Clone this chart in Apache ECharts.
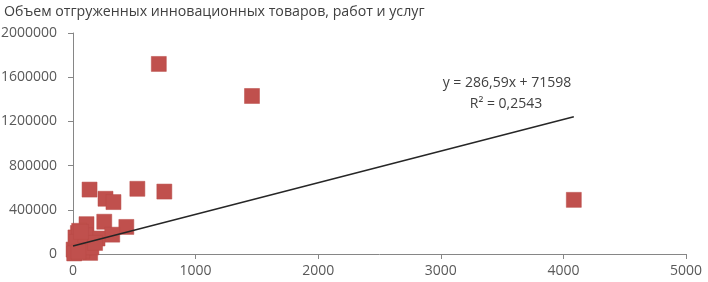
<!DOCTYPE html>
<html><head><meta charset="utf-8">
<script src="https://cdn.jsdelivr.net/npm/echarts@6/dist/echarts.min.js"></script>
<style>html,body{margin:0;padding:0;background:#fff}#c{width:708px;height:282px}</style>
</head><body><div id="c"></div>
<script>
const titleText = "Объем отгруженных инновационных товаров, работ и услуг";
const xValues = [700, 1460, 4085, 525, 745, 135, 265, 330, 255, 435, 110, 40, 15, 140, 320, 5, 25, 60, 90, 20, 50, 75, 150, 200, 30, 10, 100, 180, 45, 65];
const yValues = [1720000, 1430000, 490000, 590000, 565000, 583000, 500000, 470000, 292000, 245000, 270000, 190000, 10000, 10000, 175000, 40000, 80000, 130000, 60000, 150000, 210000, 30000, 60000, 140000, 110000, 5000, 170000, 100000, 20000, 200000];
const trendX = [0, 4085];
const trendY = [71598, 1242300];
const equationLines = ["y = 286,59x + 71598", "R² = 0,2543"];
const xTicks = [0, 1000, 2000, 3000, 4000, 5000];
const yTicks = [0, 400000, 800000, 1200000, 1600000, 2000000];

const font = "'Open Sans', sans-serif";
const chart = echarts.init(document.getElementById('c'), null, {renderer: 'canvas'});
const pts = xValues.map((x, i) => [x, yValues[i]]);
chart.setOption({
  animation: false,
  title: {text: titleText, left: -1, top: 0, textStyle: {fontFamily: font, fontSize: 14.2, fontWeight: 'normal', color: '#404040'}},
  grid: {left: 73, right: 22, top: 33, bottom: 28, containLabel: false, outerBoundsMode: 'none'},
  xAxis: {type: 'value', min: xTicks[0], max: xTicks[xTicks.length-1], interval: 1000,
    axisLine: {show: true, lineStyle: {color: '#868686'}}, axisTick: {show: true, length: 5, lineStyle: {color: '#868686'}},
    axisLabel: {fontFamily: font, fontSize: 14, color: '#595959', margin: 10, formatter: v => String(v)},
    splitLine: {show: false}},
  yAxis: {type: 'value', min: yTicks[0], max: yTicks[yTicks.length-1], interval: 400000,
    axisLine: {show: true, lineStyle: {color: '#868686'}}, axisTick: {show: true, length: 5, lineStyle: {color: '#868686'}},
    axisLabel: {fontFamily: font, fontSize: 14, color: '#595959', margin: 16, formatter: v => String(v)},
    splitLine: {show: false}},
  series: [
    {type: 'scatter', data: pts, symbol: 'rect', symbolSize: 15, itemStyle: {color: '#C0504D', opacity: 1, borderColor: '#B94A47', borderWidth: 0.5}},
    {type: 'line', data: trendX.map((x, i) => [x, trendY[i]]), symbol: 'none', lineStyle: {color: '#262626', width: 1.5}, z: 3}
  ],
  graphic: [
    {type: 'text', x: 507, y: 83, style: {text: equationLines[0], fontFamily: font, fontSize: 14, fill: '#404040', align: 'center', verticalAlign: 'middle'}},
    {type: 'text', x: 506, y: 104, style: {text: equationLines[1], fontFamily: font, fontSize: 14, fill: '#404040', align: 'center', verticalAlign: 'middle'}}
  ]
});
</script></body></html>
